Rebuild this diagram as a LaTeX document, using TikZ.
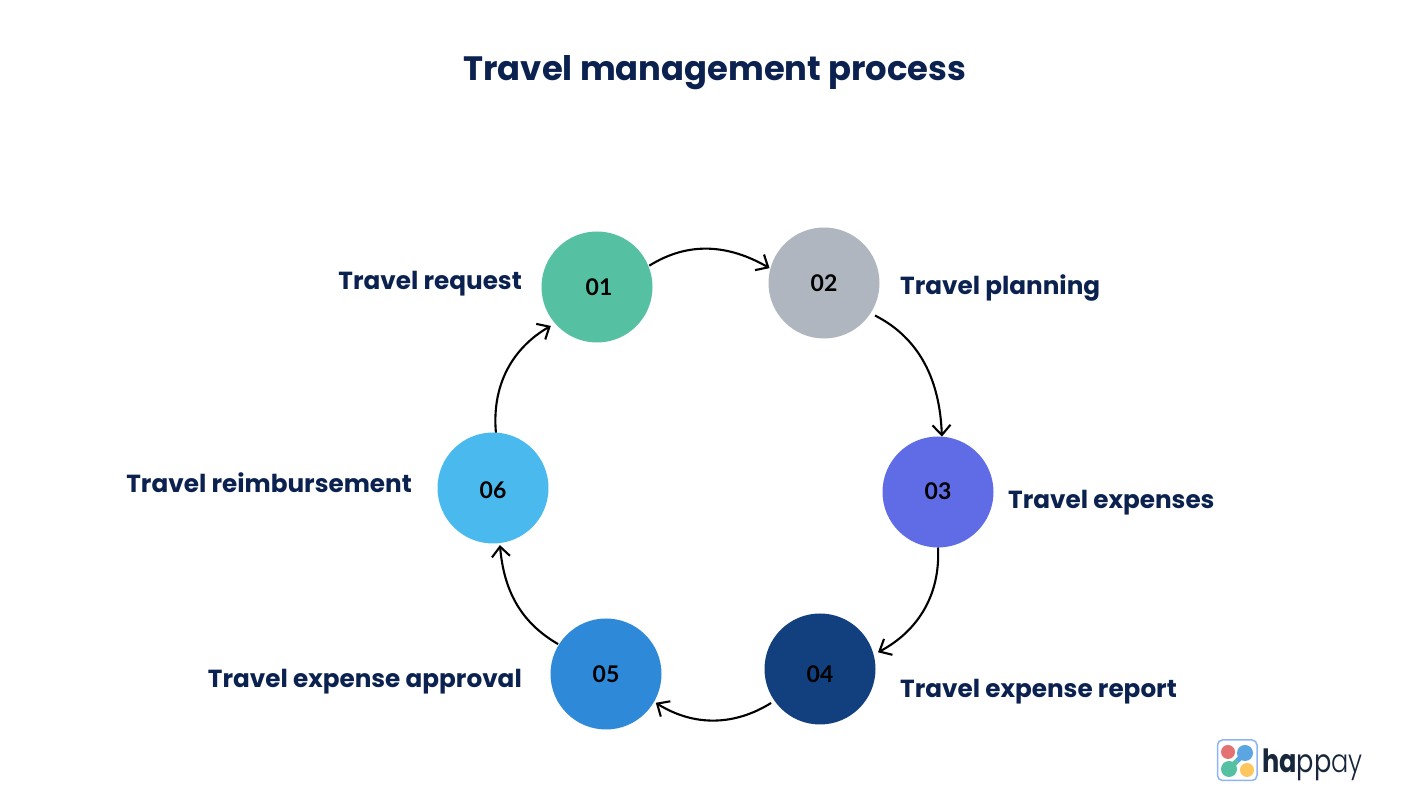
\documentclass[tikz,border=0pt]{standalone}
\usepackage{fontspec}
\usepackage{tikz}
\usetikzlibrary{arrows.meta}
\setmainfont{Poppins}
\newfontfamily\numfont{Lato}
\newfontfamily\lightfont{Poppins Light}
\definecolor{navy}{HTML}{0B2250}
\definecolor{stepa}{HTML}{55C0A2}
\definecolor{stepb}{HTML}{B0B6BF}
\definecolor{stepc}{HTML}{5F6CE5}
\definecolor{stepd}{HTML}{12407F}
\definecolor{stepe}{HTML}{2E8AD9}
\definecolor{stepf}{HTML}{4ABAEE}
\definecolor{logoink}{HTML}{17263A}
\definecolor{logobox}{HTML}{8FB4F5}
\definecolor{logored}{HTML}{E57272}
\definecolor{logoyellow}{HTML}{FDC65F}
\definecolor{logoblue}{HTML}{5BA5E2}
\tikzset{
  stepnode/.style={circle,inner sep=0pt,outer sep=0pt,minimum size=111pt},
  stepnum/.style={inner sep=0pt,text=black,font=\numfont\fontsize{23}{25}\selectfont\bfseries},
  steplabel/.style={anchor=west,inner sep=0pt,text=navy,
    font=\fontsize{24.7}{30}\selectfont\bfseries},
  steparrow/.style={draw=black,line width=2.1pt,-{Straight Barb[length=10pt,width=18pt,line width=2.1pt]}}
}
\begin{document}
\begin{tikzpicture}[x=1pt,y=1pt]
\useasboundingbox (0,0) rectangle (1428,802);
% title:
\node[inner sep=0pt,text=navy,font=\fontsize{33.8}{40}\selectfont\bfseries] (title) at (715,729) {Travel management process};
% objects on the ring:
\node[stepnode,fill=stepa] (c01) at (597,515) {};
\node[stepnode,fill=stepb] (c02) at (824,519) {};
\node[stepnode,fill=stepc] (c03) at (938,310) {};
\node[stepnode,fill=stepd] (c04) at (820,133) {};
\node[stepnode,fill=stepe] (c05) at (606,128) {};
\node[stepnode,fill=stepf] (c06) at (493,314) {};
% numbers:
\node[stepnum] (n01) at (599,515) {01};
\node[stepnum] (n02) at (824,519) {02};
\node[stepnum] (n03) at (938,311) {03};
\node[stepnum] (n04) at (820,128) {04};
\node[stepnum] (n05) at (606,128) {05};
\node[stepnum] (n06) at (493,312) {06};
% labels:
\node[steplabel,anchor=east] (l01) at (522,518) {Travel request};
\node[steplabel] (l02) at (900,514) {Travel planning};
\node[steplabel] (l03) at (1008,299) {Travel expenses};
\node[steplabel] (l04) at (900,110) {Travel expense report};
\node[steplabel,anchor=east] (l05) at (522,120) {Travel expense approval};
\node[steplabel,anchor=east] (l06) at (412,319) {Travel reimbursement};
% arrows:
\path[steparrow,shorten <=1pt,shorten >=1pt] (c01.22) to[out=32,in=150] (c02.165);
\path[steparrow,shorten <=5pt] (c02.-33) to[out=-27,in=92] (c03.86);
\path[steparrow,shorten >=5pt] (c03.-90) to[out=-87,in=28] (c04.15);
\path[steparrow,shorten <=4pt,shorten >=2pt] (c04.215) to[out=212,in=-32] (c05.-30);
\path[steparrow,shorten <=1pt,shorten >=2pt] (c05.148) to[out=150,in=-85] (c06.-83);
\path[steparrow,shorten >=5pt] (c06.87) to[out=95,in=210] (c01.221);
% logo:
\path[draw=logobox,line width=1.5pt,fill=white,rounded corners=5pt] (1217.5,21.5) rectangle (1257,62);
\path[fill=logored] (1228,50) circle (7);
\path[fill=logoyellow] (1247,32) circle (7);
\path[draw=logoblue,line width=5pt] (1245,49) -- (1237,41);
\path[draw=stepa,line width=5pt] (1237,41) -- (1229,33);
\path[fill=logoblue] (1245,49) circle (8);
\path[fill=stepa] (1229,33) circle (8);
\node[anchor=base west,inner sep=0pt,text=logoink,xscale=.8,transform shape,font=\fontsize{32}{36}\selectfont] (logo) at (1262,29) {\textbf{ha}pp{\lightfont ay}};
\end{tikzpicture}
\end{document}
